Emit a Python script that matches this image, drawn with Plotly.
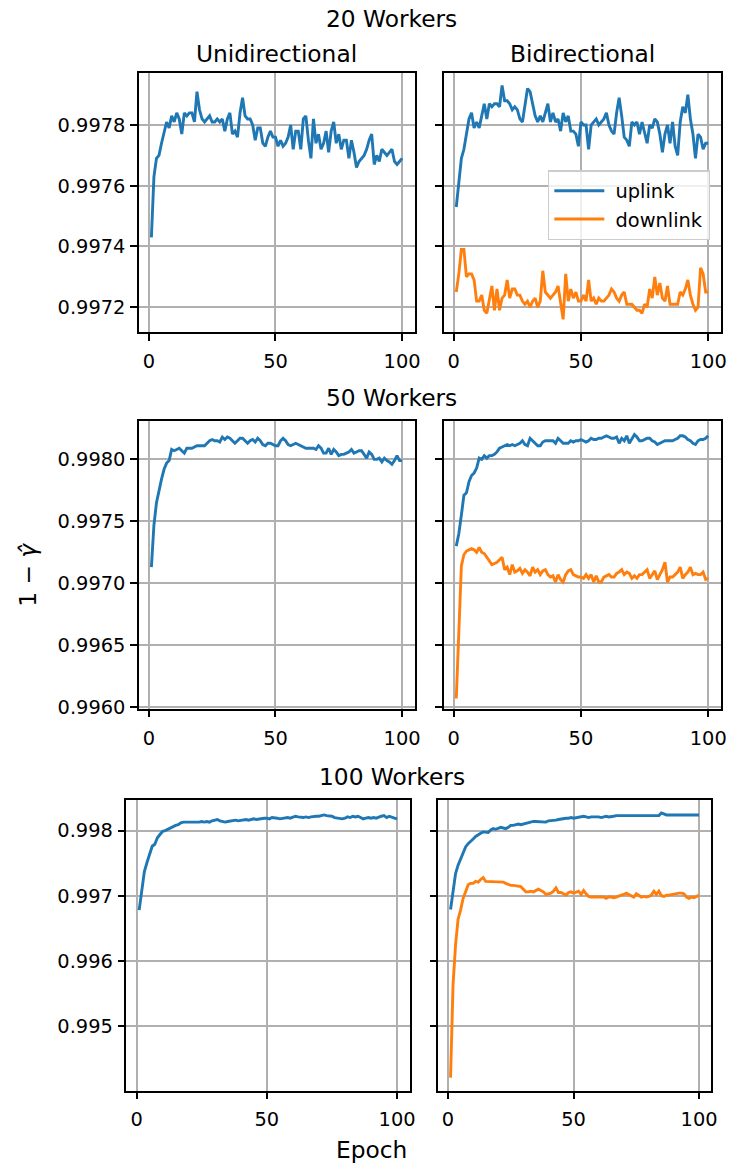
import plotly.graph_objects as go

W, H = 740, 1174

epochs = list(range(1, 101))

w20_uni = [0.99743, 0.99763, 0.99769, 0.99770, 0.99774, 0.99778, 0.99781, 0.99779, 0.99783, 0.99781,
           0.99784, 0.99782, 0.99777, 0.99784, 0.99783, 0.99784, 0.99784, 0.99781, 0.99791, 0.99785,
           0.99782, 0.99781, 0.99782, 0.99783, 0.99781, 0.99781, 0.99782, 0.99781, 0.99782, 0.99778,
           0.99782, 0.99784, 0.99777, 0.99778, 0.99776, 0.99784, 0.99789, 0.99783, 0.99782, 0.99782,
           0.99780, 0.99775, 0.99779, 0.99779, 0.99774, 0.99773, 0.99776, 0.99778, 0.99776, 0.99776,
           0.99773, 0.99775, 0.99773, 0.99774, 0.99776, 0.99780, 0.99772, 0.99778, 0.99778, 0.99772,
           0.99782, 0.99783, 0.99775, 0.99769, 0.99782, 0.99774, 0.99777, 0.99772, 0.99774, 0.99778,
           0.99771, 0.99778, 0.99781, 0.99774, 0.99777, 0.99772, 0.99775, 0.99775, 0.99769, 0.99775,
           0.99771, 0.99766, 0.99768, 0.99769, 0.99770, 0.99772, 0.99775, 0.99777, 0.99767, 0.99770,
           0.99768, 0.99772, 0.99771, 0.99770, 0.99771, 0.99772, 0.99768, 0.99767, 0.99768, 0.99769]

w20_bi_up = [0.99753, 0.99760, 0.99769, 0.99772, 0.99777, 0.99782, 0.99784, 0.99779, 0.99781, 0.99779,
             0.99783, 0.99787, 0.99782, 0.99787, 0.99786, 0.99787, 0.99787, 0.99786, 0.99793, 0.99788,
             0.99788, 0.99787, 0.99785, 0.99786, 0.99785, 0.99782, 0.99781, 0.99786, 0.99792, 0.99791,
             0.99787, 0.99783, 0.99781, 0.99783, 0.99781, 0.99784, 0.99787, 0.99781, 0.99784, 0.99781,
             0.99782, 0.99778, 0.99784, 0.99781, 0.99783, 0.99778, 0.99778, 0.99777, 0.99773, 0.99781,
             0.99780, 0.99780, 0.99772, 0.99780, 0.99781, 0.99782, 0.99780, 0.99781, 0.99782, 0.99784,
             0.99780, 0.99778, 0.99777, 0.99784, 0.99789, 0.99783, 0.99776, 0.99775, 0.99773, 0.99781,
             0.99780, 0.99781, 0.99777, 0.99781, 0.99777, 0.99774, 0.99780, 0.99779, 0.99782, 0.99781,
             0.99777, 0.99771, 0.99777, 0.99780, 0.99774, 0.99781, 0.99773, 0.99770, 0.99781, 0.99786,
             0.99784, 0.99790, 0.99782, 0.99777, 0.99769, 0.99777, 0.99776, 0.99772, 0.99774, 0.99774]

w20_bi_down = [0.99725, 0.99731, 0.99739, 0.99739, 0.99730, 0.99731, 0.99731, 0.99729, 0.99722, 0.99722,
               0.99724, 0.99719, 0.99718, 0.99722, 0.99727, 0.99719, 0.99726, 0.99719, 0.99723, 0.99724,
               0.99729, 0.99723, 0.99726, 0.99726, 0.99724, 0.99724, 0.99722, 0.99721, 0.99722, 0.99720,
               0.99722, 0.99723, 0.99720, 0.99722, 0.99732, 0.99725, 0.99724, 0.99723, 0.99724, 0.99725,
               0.99727, 0.99722, 0.99716, 0.99731, 0.99722, 0.99726, 0.99723, 0.99725, 0.99722, 0.99722,
               0.99724, 0.99722, 0.99729, 0.99722, 0.99723, 0.99721, 0.99723, 0.99722, 0.99722, 0.99723,
               0.99724, 0.99726, 0.99725, 0.99723, 0.99722, 0.99724, 0.99725, 0.99721, 0.99721, 0.99721,
               0.99720, 0.99719, 0.99719, 0.99718, 0.99721, 0.99720, 0.99726, 0.99723, 0.99730, 0.99724,
               0.99728, 0.99723, 0.99722, 0.99727, 0.99721, 0.99721, 0.99721, 0.99721, 0.99725, 0.99724,
               0.99726, 0.99729, 0.99724, 0.99721, 0.99719, 0.99720, 0.99733, 0.99731, 0.99725, 0.99725]

w50_uni = [0.99713, 0.99747, 0.99765, 0.99776, 0.99784, 0.99792, 0.99797, 0.99799, 0.99808, 0.99807,
           0.99808, 0.99809, 0.99807, 0.99805, 0.99809, 0.99809, 0.99809, 0.99810, 0.99811, 0.99811,
           0.99811, 0.99811, 0.99813, 0.99815, 0.99816, 0.99815, 0.99815, 0.99814, 0.99818, 0.99816,
           0.99818, 0.99817, 0.99815, 0.99813, 0.99815, 0.99817, 0.99817, 0.99815, 0.99813, 0.99815,
           0.99816, 0.99814, 0.99817, 0.99815, 0.99812, 0.99811, 0.99813, 0.99813, 0.99812, 0.99811,
           0.99811, 0.99815, 0.99817, 0.99815, 0.99812, 0.99811, 0.99812, 0.99813, 0.99812, 0.99811,
           0.99810, 0.99809, 0.99809, 0.99809, 0.99809, 0.99808, 0.99811, 0.99809, 0.99805, 0.99805,
           0.99809, 0.99804, 0.99808, 0.99806, 0.99803, 0.99804, 0.99804, 0.99805, 0.99806, 0.99808,
           0.99805, 0.99806, 0.99807, 0.99807, 0.99804, 0.99801, 0.99806, 0.99804, 0.99800, 0.99800,
           0.99801, 0.99798, 0.99801, 0.99799, 0.99798, 0.99796, 0.99799, 0.99803, 0.99799, 0.99799]

w50_bi_up = [0.99730, 0.99740, 0.99755, 0.99771, 0.99773, 0.99782, 0.99787, 0.99789, 0.99793, 0.99801,
             0.99800, 0.99803, 0.99801, 0.99803, 0.99803, 0.99804, 0.99806, 0.99809, 0.99810, 0.99811,
             0.99812, 0.99811, 0.99812, 0.99811, 0.99812, 0.99813, 0.99815, 0.99812, 0.99811, 0.99817,
             0.99815, 0.99813, 0.99811, 0.99811, 0.99814, 0.99815, 0.99815, 0.99815, 0.99815, 0.99813,
             0.99817, 0.99815, 0.99813, 0.99813, 0.99813, 0.99815, 0.99814, 0.99815, 0.99815, 0.99816,
             0.99815, 0.99814, 0.99815, 0.99817, 0.99816, 0.99816, 0.99817, 0.99817, 0.99818, 0.99819,
             0.99818, 0.99817, 0.99817, 0.99818, 0.99813, 0.99817, 0.99815, 0.99819, 0.99813, 0.99817,
             0.99820, 0.99818, 0.99815, 0.99815, 0.99816, 0.99817, 0.99817, 0.99815, 0.99814, 0.99812,
             0.99813, 0.99814, 0.99815, 0.99815, 0.99815, 0.99815, 0.99816, 0.99817, 0.99819, 0.99819,
             0.99818, 0.99816, 0.99815, 0.99813, 0.99812, 0.99815, 0.99816, 0.99816, 0.99817, 0.99819]

w50_bi_down = [0.99607, 0.99669, 0.99714, 0.99723, 0.99726, 0.99727, 0.99728, 0.99727, 0.99725, 0.99729,
               0.99725, 0.99724, 0.99721, 0.99717, 0.99715, 0.99716, 0.99717, 0.99719, 0.99721, 0.99711,
               0.99713, 0.99707, 0.99715, 0.99709, 0.99710, 0.99712, 0.99708, 0.99711, 0.99709, 0.99706,
               0.99713, 0.99709, 0.99711, 0.99707, 0.99710, 0.99711, 0.99707, 0.99705, 0.99706, 0.99701,
               0.99707, 0.99703, 0.99701, 0.99707, 0.99710, 0.99711, 0.99707, 0.99706, 0.99705, 0.99705,
               0.99704, 0.99707, 0.99704, 0.99707, 0.99701, 0.99706, 0.99701, 0.99701, 0.99705, 0.99706,
               0.99707, 0.99705, 0.99705, 0.99708, 0.99709, 0.99711, 0.99707, 0.99709, 0.99708, 0.99704,
               0.99706, 0.99704, 0.99707, 0.99707, 0.99709, 0.99711, 0.99704, 0.99707, 0.99710, 0.99703,
               0.99707, 0.99711, 0.99717, 0.99701, 0.99705, 0.99705, 0.99707, 0.99709, 0.99713, 0.99704,
               0.99707, 0.99709, 0.99713, 0.99707, 0.99708, 0.99707, 0.99707, 0.99709, 0.99703, 0.99704]

w100_uni = [0.99678, 0.99710, 0.99737, 0.99751, 0.99764, 0.99776, 0.99779, 0.99789, 0.99794, 0.99799,
            0.99800, 0.99802, 0.99805, 0.99807, 0.99808, 0.99809, 0.99812, 0.99813, 0.99813, 0.99813,
            0.99812, 0.99813, 0.99812, 0.99813, 0.99814, 0.99813, 0.99814, 0.99813, 0.99815, 0.99816,
            0.99817, 0.99815, 0.99814, 0.99813, 0.99814, 0.99815, 0.99815, 0.99816, 0.99815, 0.99816,
            0.99816, 0.99817, 0.99816, 0.99817, 0.99818, 0.99817, 0.99818, 0.99819, 0.99819, 0.99819,
            0.99818, 0.99820, 0.99820, 0.99819, 0.99818, 0.99819, 0.99819, 0.99820, 0.99819, 0.99820,
            0.99822, 0.99821, 0.99820, 0.99820, 0.99821, 0.99820, 0.99821, 0.99822, 0.99822, 0.99822,
            0.99823, 0.99824, 0.99823, 0.99823, 0.99822, 0.99820, 0.99819, 0.99818, 0.99818, 0.99819,
            0.99821, 0.99820, 0.99822, 0.99821, 0.99822, 0.99820, 0.99818, 0.99819, 0.99820, 0.99819,
            0.99820, 0.99819, 0.99821, 0.99822, 0.99823, 0.99820, 0.99822, 0.99820, 0.99819, 0.99818]

w100_bi_up = [0.99679, 0.99711, 0.99734, 0.99747, 0.99756, 0.99766, 0.99775, 0.99780, 0.99783, 0.99787,
              0.99791, 0.99794, 0.99796, 0.99798, 0.99798, 0.99797, 0.99801, 0.99803, 0.99802, 0.99804,
              0.99805, 0.99804, 0.99803, 0.99805, 0.99808, 0.99808, 0.99809, 0.99810, 0.99809, 0.99810,
              0.99811, 0.99813, 0.99813, 0.99814, 0.99814, 0.99814, 0.99814, 0.99814, 0.99813, 0.99815,
              0.99815, 0.99815, 0.99816, 0.99817, 0.99818, 0.99818, 0.99819, 0.99819, 0.99820, 0.99819,
              0.99820, 0.99820, 0.99821, 0.99822, 0.99821, 0.99820, 0.99821, 0.99821, 0.99822, 0.99821,
              0.99820, 0.99821, 0.99822, 0.99821, 0.99821, 0.99822, 0.99823, 0.99823, 0.99823, 0.99823,
              0.99823, 0.99823, 0.99823, 0.99823, 0.99823, 0.99824, 0.99824, 0.99823, 0.99824, 0.99823,
              0.99823, 0.99824, 0.99823, 0.99823, 0.99827, 0.99825, 0.99824, 0.99824, 0.99824, 0.99823,
              0.99823, 0.99824, 0.99824, 0.99823, 0.99824, 0.99824, 0.99824, 0.99824, 0.99824, 0.99824]

w100_bi_down = [0.99421, 0.99564, 0.99625, 0.99664, 0.99678, 0.99696, 0.99706, 0.99717, 0.99719, 0.99719,
                0.99722, 0.99721, 0.99725, 0.99728, 0.99722, 0.99722, 0.99722, 0.99722, 0.99721, 0.99722,
                0.99721, 0.99721, 0.99719, 0.99717, 0.99716, 0.99716, 0.99715, 0.99714, 0.99714, 0.99710,
                0.99706, 0.99706, 0.99707, 0.99706, 0.99708, 0.99710, 0.99708, 0.99706, 0.99702, 0.99703,
                0.99704, 0.99707, 0.99712, 0.99705, 0.99705, 0.99703, 0.99701, 0.99705, 0.99706, 0.99704,
                0.99706, 0.99707, 0.99702, 0.99708, 0.99703, 0.99699, 0.99698, 0.99698, 0.99697, 0.99697,
                0.99697, 0.99698, 0.99696, 0.99698, 0.99698, 0.99697, 0.99698, 0.99700, 0.99701, 0.99702,
                0.99704, 0.99702, 0.99700, 0.99698, 0.99703, 0.99701, 0.99698, 0.99699, 0.99698, 0.99699,
                0.99701, 0.99707, 0.99702, 0.99707, 0.99700, 0.99699, 0.99701, 0.99701, 0.99702, 0.99703,
                0.99703, 0.99704, 0.99704, 0.99703, 0.99698, 0.99696, 0.99698, 0.99697, 0.99699, 0.99701]

row_titles = ["20 Workers", "50 Workers", "100 Workers"]
col_titles = ["Unidirectional", "Bidirectional"]
series_names = ["uplink", "downlink"]
row_yticks = [[0.9972, 0.9974, 0.9976, 0.9978],
              [0.9960, 0.9965, 0.9970, 0.9975, 0.9980],
              [0.995, 0.996, 0.997, 0.998]]
row_yfmt = [".4f", ".4f", ".3f"]
row_yrange = [[0.997118, 0.99797], [0.995986, 0.998309], [0.99401, 0.998472]]
xticks = [0, 50, 100]

BLUE = "#1f77b4"
ORANGE = "#ff7f0e"
FONT = "DejaVu Sans"
TICK_FS = 19.4
TITLE_FS = 23.3
LW = 2.9

# panel boxes in pixels: (left, right, top, bottom)
boxes = [
    (140, 418, 74, 335), (447.3, 726.7, 74, 335),
    (140, 418, 424.7, 715), (447.3, 726.7, 424.7, 715),
    (127.3, 413.3, 806.7, 1100), (441.7, 717.3, 806.7, 1100),
]

fig = go.Figure()

panels = [
    [(0, w20_uni, BLUE)],
    [(0, w20_bi_up, BLUE), (1, w20_bi_down, ORANGE)],
    [(0, w50_uni, BLUE)],
    [(0, w50_bi_up, BLUE), (1, w50_bi_down, ORANGE)],
    [(0, w100_uni, BLUE)],
    [(0, w100_bi_up, BLUE), (1, w100_bi_down, ORANGE)],
]

layout = {}
for i, (l, r, t, b) in enumerate(boxes):
    n = i + 1
    row = i // 2
    col = i % 2
    xa = "x" if n == 1 else f"x{n}"
    ya = "y" if n == 1 else f"y{n}"
    for k, vals, color in panels[i]:
        fig.add_trace(go.Scatter(
            x=epochs, y=vals, mode="lines", name="\u00a0" + series_names[k],
            line=dict(color=color, width=LW),
            xaxis=xa, yaxis=ya,
            showlegend=(i == 1),
        ))
    common = dict(
        showline=True, mirror=True, linecolor="black", linewidth=1.5,
        showgrid=True, gridcolor="#b0b0b0", gridwidth=1.5,
        zeroline=False, ticks="outside", ticklen=6.8, tickwidth=1.5,
        tickcolor="black", tickfont=dict(family=FONT, size=TICK_FS, color="black"),
    )
    layout[f"xaxis{n}"] = dict(
        common, domain=[l / W, r / W], anchor=ya, range=[-3.95, 104.95],
        tickvals=xticks, ticktext=[str(v) for v in xticks], ticklabelstandoff=4,
    )
    layout[f"yaxis{n}"] = dict(
        common, domain=[1 - b / H, 1 - t / H], anchor=xa, range=row_yrange[row],
        tickvals=row_yticks[row], tickformat=row_yfmt[row],
        showticklabels=(col == 0), ticklabelstandoff=1,
    )

annotations = []

def px_ann(text, x, y, size, angle=0):
    annotations.append(dict(
        text=text, x=x / W, y=1 - y / H, xref="paper", yref="paper",
        xanchor="center", yanchor="middle", showarrow=False, textangle=angle,
        font=dict(family=FONT, size=size, color="black"),
    ))

px_ann(row_titles[0], 394.5, 19, TITLE_FS)
px_ann(row_titles[1], 395, 401, TITLE_FS)
px_ann(row_titles[2], 395, 783, TITLE_FS)
px_ann(col_titles[0], 279, 54, TITLE_FS)
px_ann(col_titles[1], 587, 54, TITLE_FS)
px_ann("Epoch", 375, 1159, TITLE_FS)
px_ann("1 − <i>γ\u0302</i>", 27, 580, TITLE_FS, angle=-90)

fig.update_layout(
    width=W, height=H, margin=dict(l=0, r=0, t=0, b=0),
    paper_bgcolor="white", plot_bgcolor="white",
    font=dict(family=FONT, size=TICK_FS, color="black"),
    annotations=annotations,
    legend=dict(
        x=552.5 / W, y=1 - 171.8 / H, xanchor="left", yanchor="top",
        bgcolor="rgba(255,255,255,0.8)", bordercolor="#cccccc", borderwidth=1.3,
        font=dict(family=FONT, size=TICK_FS, color="black"),
        itemwidth=50,
    ),
    **layout,
)

fig.write_html("out.html")
